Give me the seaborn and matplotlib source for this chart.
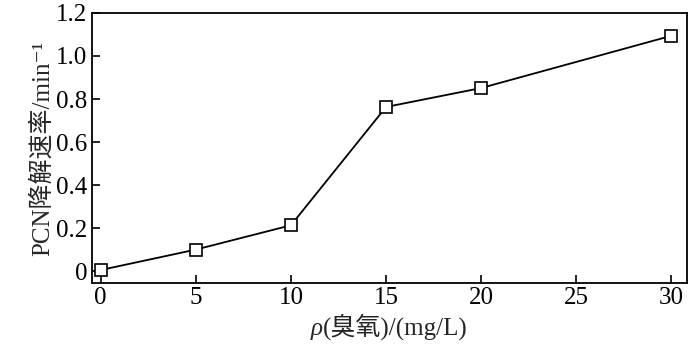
import numpy as np
import pandas as pd
import matplotlib
matplotlib.use('Agg')
import matplotlib.pyplot as plt
import seaborn as sns
from matplotlib.offsetbox import TextArea, HPacker, AnnotationBbox

# ozone dose vs PCN degradation rate
ozone = [0, 5, 10, 15, 20, 30]
rate = [0.005, 0.10, 0.213, 0.763, 0.851, 1.094]

y_ticks = [0, 0.2, 0.4, 0.6, 0.8, 1.0, 1.2]
y_tick_labels = ['0', '0.2', '0.4', '0.6', '0.8', '1.0', '1.2']
x_ticks = [0, 5, 10, 15, 20, 25, 30]

sns.set_style('ticks')
fonts = ['Liberation Serif', 'Noto Sans CJK SC', 'DejaVu Sans']
plt.rcParams['font.family'] = fonts
plt.rcParams['axes.unicode_minus'] = False

df = pd.DataFrame({'ozone': ozone, 'rate': rate})

fig = plt.figure(figsize=(7, 3.5), dpi=100)
ax = fig.add_axes([0.131, 0.191, 0.85, 0.772])

sns.lineplot(data=df, x='ozone', y='rate', ax=ax, color='black', linewidth=1.3,
             marker='s', markersize=8, markerfacecolor='white',
             markeredgecolor='black', markeredgewidth=1.2)

ax.set_xlim(-0.47, 30.8)
ax.set_ylim(-0.056, 1.2)
ax.set_xticks(x_ticks)
ax.set_yticks(y_ticks)
ax.set_yticklabels(y_tick_labels)
ax.tick_params(direction='in', length=6, width=1.2, labelsize=18, colors='black',
               top=False, right=False, pad=3)
for s in ax.spines.values():
    s.set_linewidth(1.3)
    s.set_color('black')

ax.set_xlabel('')
ax.set_ylabel('PCN降解速率/min⁻¹', fontsize=18, labelpad=2)

# x label: italic rho + rest
lbl = HPacker(children=[
    TextArea('ρ', textprops=dict(fontsize=18, style='italic', family=fonts)),
    TextArea('(臭氧)/(mg/L)', textprops=dict(fontsize=18, family=fonts)),
], align='baseline', pad=0, sep=0)
ab = AnnotationBbox(lbl, (0.5, -0.163), xycoords='axes fraction',
                    box_alignment=(0.5, 0.5), frameon=False)
ax.add_artist(ab)

fig.savefig('out.png', dpi=100)
